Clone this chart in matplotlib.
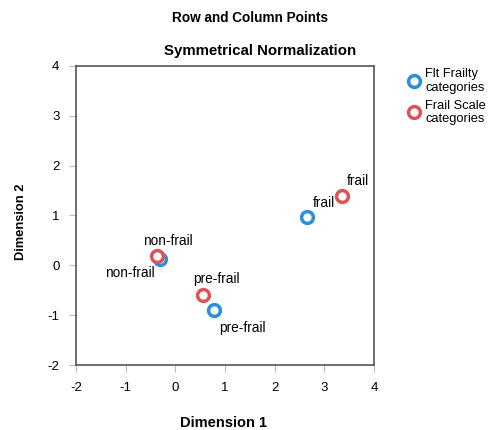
import matplotlib
matplotlib.use('Agg')
import matplotlib.pyplot as plt

plt.rcParams['font.family'] = ['Liberation Sans', 'DejaVu Sans']
plt.rcParams['axes.unicode_minus'] = False

categories = ['non-frail', 'pre-frail', 'frail']
flt_x = [-0.31, 0.78, 2.65]
flt_y = [0.13, -0.90, 0.97]
scale_x = [-0.37, 0.56, 3.35]
scale_y = [0.19, -0.59, 1.39]

blue = '#2a8fdc'
red = '#dc5458'

fig = plt.figure(figsize=(4.94, 4.30), dpi=100)
ax = fig.add_axes([0.154, 0.151, 0.603, 0.696])

ax.plot(flt_x, flt_y, 'o', ms=8.5, mfc='white', mec=blue, mew=2.5,
        label='Flt Frailty\ncategories', zorder=3)
ax.plot(scale_x, scale_y, 'o', ms=8.5, mfc='white', mec=red, mew=2.5,
        label='Frail Scale\ncategories', zorder=3)

# label positions relative to points (offset in points)
flt_off = [(-4, -10, 'right'), (4, -13, 'left'), (4, 10, 'left')]
scale_off = [(-10, 11, 'left'), (-7, 11, 'left'), (4, 11, 'left')]
for i, c in enumerate(categories):
    dx, dy, ha = flt_off[i]
    ax.annotate(c, (flt_x[i], flt_y[i]), xytext=(dx, dy), textcoords='offset points',
                ha=ha, va='center', fontsize=9.8)
    dx, dy, ha = scale_off[i]
    ax.annotate(c, (scale_x[i], scale_y[i]), xytext=(dx, dy), textcoords='offset points',
                ha=ha, va='center', fontsize=9.8)

ax.set_xlim(-2, 4)
ax.set_ylim(-2, 4)
ax.set_xticks(range(-2, 5))
ax.set_yticks(range(-2, 5))
ax.tick_params(direction='out', length=5, color='#bbbbbb', labelsize=9.5, pad=7)
for s in ax.spines.values():
    s.set_color('#555555')
    s.set_linewidth(1.2)

fig.text(0.453, 0.016, 'Dimension 1', ha='center', va='center',
         fontsize=10.5, fontweight='bold')
fig.text(0.043, 0.484, 'Dimension 2', ha='center', va='center', rotation=90,
         fontsize=9.3, fontweight='bold')
fig.text(0.507, 0.958, 'Row and Column Points', ha='center', va='center',
         fontsize=9.8, fontweight='bold')
fig.text(0.526, 0.881, 'Symmetrical Normalization', ha='center', va='center',
         fontsize=10.8, fontweight='bold')

ax.legend(loc='upper left', bbox_to_anchor=(1.09, 1.01), frameon=False,
          fontsize=9.3, handletextpad=0.3, labelspacing=0.45, handlelength=1.2,
          borderaxespad=0)

fig.savefig('out.png', dpi=100)
